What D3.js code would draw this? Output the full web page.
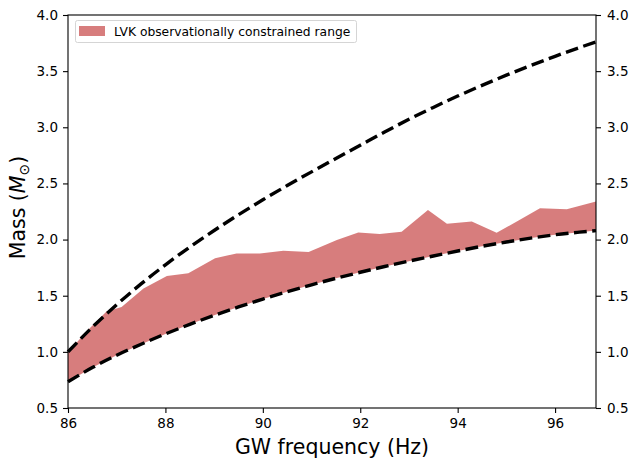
<!DOCTYPE html>
<html>
<head>
<meta charset="utf-8">
<script src="https://cdn.jsdelivr.net/npm/d3@7"></script>
<style>
  html, body { margin: 0; padding: 0; background: #fff; }
  svg { display: block; font-family: "DejaVu Sans", sans-serif; }
</style>
</head>
<body>
<svg id="chart" width="634" height="459"></svg>
<script>
// ---- data ----
const xTicks = [86, 88, 90, 92, 94, 96];
const yTicks = [0.5, 1.0, 1.5, 2.0, 2.5, 3.0, 3.5, 4.0];

// dashed bounding curves
const curveFreq  = [86, 86.5, 87, 87.5, 88, 88.5, 89, 89.5, 90, 90.5, 91, 91.5, 92, 92.5, 93, 93.5, 94, 94.5, 95, 95.5, 96, 96.5, 96.84];
const upperCurve = [1.00, 1.22, 1.42, 1.605, 1.775, 1.933, 2.081, 2.221, 2.354, 2.481, 2.603, 2.722, 2.840, 2.958, 3.071, 3.177, 3.278, 3.373, 3.464, 3.550, 3.632, 3.710, 3.760];
const lowerCurve = [0.734, 0.86, 0.97, 1.068, 1.16, 1.245, 1.325, 1.40, 1.47, 1.535, 1.597, 1.655, 1.709, 1.76, 1.808, 1.854, 1.898, 1.94, 1.978, 2.013, 2.043, 2.066, 2.08];

// LVK band upper edge (lower edge follows the lower dashed curve)
const bandFreq  = [86.0, 86.04, 86.4, 86.79, 87.1, 87.55, 88.03, 88.47, 89.02, 89.46, 89.94, 90.42, 90.94, 91.52, 91.96, 92.4, 92.85, 93.39, 93.78, 94.29, 94.8, 95.25, 95.69, 96.24, 96.84];
const bandUpper = [1.00, 1.016, 1.19, 1.36, 1.40, 1.565, 1.675, 1.70, 1.833, 1.877, 1.877, 1.90, 1.89, 1.996, 2.064, 2.05, 2.07, 2.263, 2.14, 2.16, 2.06, 2.17, 2.28, 2.27, 2.34];

const legendLabel = "LVK observationally constrained range";

// ---- layout ----
const svg = d3.select("#chart");
const L = 68, R = 596, T = 15, B = 408;
const x = d3.scaleLinear().domain([86, 96.84]).range([L, R]);
const y = d3.scaleLinear().domain([0.5, 4.0]).range([B, T]);

const bandColor = "#cd5c5c";

// band polygon: upper edge forward, lower curve backward
const upperPts = bandFreq.map((f, i) => [f, bandUpper[i]]);
const lowerPts = curveFreq.map((f, i) => [f, lowerCurve[i]]).reverse();
const poly = upperPts.concat(lowerPts);
svg.append("path")
  .attr("d", d3.line().x(d => x(d[0])).y(d => y(d[1]))(poly) + "Z")
  .attr("fill", bandColor).attr("fill-opacity", 0.8).attr("stroke", "none");

// dashed curves
const lineGen = d3.line().x(d => x(d[0])).y(d => y(d[1])).curve(d3.curveMonotoneX);
[upperCurve, lowerCurve].forEach(vals => {
  svg.append("path")
    .attr("d", lineGen(curveFreq.map((f, i) => [f, vals[i]])))
    .attr("fill", "none").attr("stroke", "#000")
    .attr("stroke-width", 3.4)
    .attr("stroke-dasharray", "12.8,5.5");
});

// axes
const fs = "13.5px";
const axB = svg.append("g").attr("transform", `translate(0,${B})`)
  .call(d3.axisBottom(x).tickValues(xTicks).tickFormat(d3.format("d")).tickSize(5).tickPadding(5));
const axL = svg.append("g").attr("transform", `translate(${L},0)`)
  .call(d3.axisLeft(y).tickValues(yTicks).tickFormat(d3.format(".1f")).tickSize(5).tickPadding(5));
const axR = svg.append("g").attr("transform", `translate(${R},0)`)
  .call(d3.axisRight(y).tickValues(yTicks).tickFormat(d3.format(".1f")).tickSize(5).tickPadding(6));
[axB, axL, axR].forEach(g => {
  g.select(".domain").remove();
  g.selectAll(".tick line").attr("stroke", "#000").attr("stroke-width", 1.1);
  g.selectAll(".tick text").attr("fill", "#000").style("font-size", fs).style("font-family", "DejaVu Sans");
});

// spines
svg.append("rect").attr("x", L).attr("y", T).attr("width", R - L).attr("height", B - T)
  .attr("fill", "none").attr("stroke", "#000").attr("stroke-width", 1.1);

// axis labels
svg.append("text").attr("x", (L + R) / 2).attr("y", 454)
  .attr("text-anchor", "middle").style("font-size", "20.5px").text("GW frequency (Hz)");

const yl = svg.append("text")
  .attr("transform", `translate(25,${(T + B) / 2 - 4}) rotate(-90)`)
  .attr("text-anchor", "middle").style("font-size", "20.5px");
yl.append("tspan").text("Mass (");
yl.append("tspan").style("font-style", "italic").text("M");
yl.append("tspan").attr("dy", "4").style("font-size", "14px").text("\u2299");
yl.append("tspan").attr("dy", "-4").text(")");

// legend
const lg = svg.append("g");
lg.append("rect").attr("x", 75.5).attr("y", 20.5).attr("width", 281).attr("height", 22).attr("rx", 2)
  .attr("fill", "#fff").attr("fill-opacity", 0.8).attr("stroke", "#d5d5d5").attr("stroke-width", 1);
lg.append("rect").attr("x", 79).attr("y", 26).attr("width", 26).attr("height", 10)
  .attr("fill", bandColor).attr("fill-opacity", 0.8);
lg.append("text").attr("x", 114).attr("y", 35.5).style("font-size", "12.3px").text(legendLabel);
</script>
</body>
</html>
